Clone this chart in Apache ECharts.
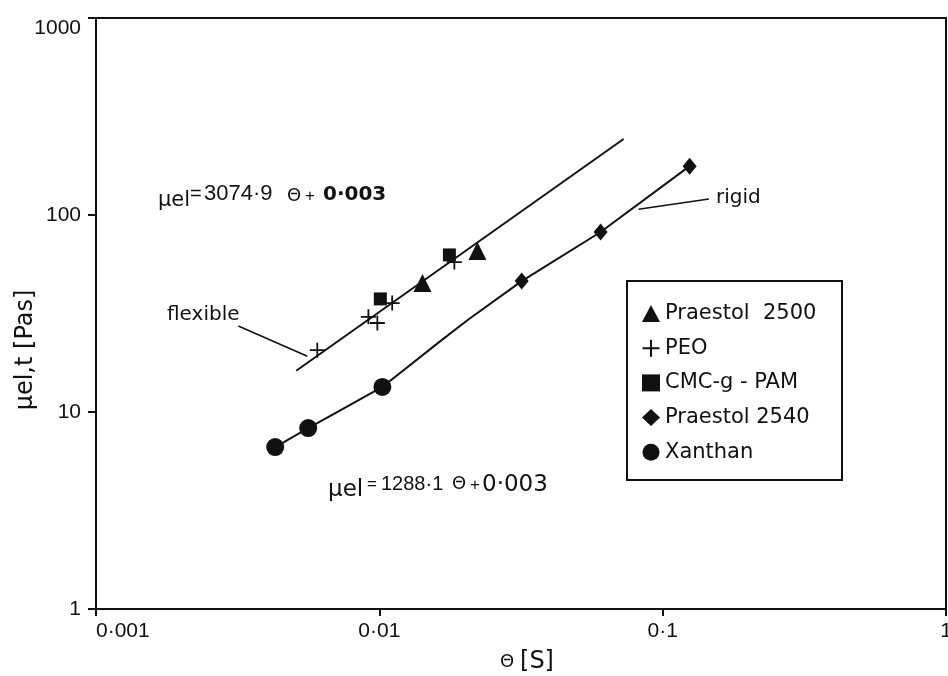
<!DOCTYPE html>
<html>
<head>
<meta charset="utf-8">
<title>Elongational viscosity vs relaxation time</title>
<script src="https://cdn.jsdelivr.net/npm/echarts@6/dist/echarts.min.js"></script>
<style>
  html, body { margin: 0; padding: 0; background: #ffffff; }
  #chart { width: 948px; height: 676px; }
</style>
</head>
<body>
<div id="chart"></div>
<script>
// Measured points: [theta (s), mu_el,t (Pa s)]
const praestol2500 = [[0.0142, 45.2], [0.0222, 65.7]];
const peo = [[0.00604, 20.6], [0.00915, 30.4], [0.00984, 28.3], [0.0111, 35.7], [0.0184, 57.7]];
const cmcGPam = [[0.01008, 37.5], [0.01767, 62.7]];
const praestol2540 = [[0.0318, 46.2], [0.0604, 82], [0.1245, 177]];
const xanthan = [[0.00429, 6.64], [0.00561, 8.29], [0.01025, 13.4]];

// Fitted curves
const flexibleFit = [[0.00509, 16.2], [0.0728, 243]];
const rigidFit = [[0.00429, 6.64], [0.00561, 8.29], [0.00728, 10.2], [0.01025, 13.4],
                  [0.01642, 22.9], [0.0205, 29.3], [0.0318, 46.2], [0.0604, 82], [0.1245, 177]];

// Leader lines for the curve labels
const flexibleLeader = [[0.00318, 27.3], [0.00557, 19.2]];
const rigidLeader = [[0.0822, 107], [0.1456, 120.5]];

// Axis ticks and their printed labels
const xTicks = [0.001, 0.01, 0.1, 1];
const xTickLabels = ['0·001', '0·01', '0·1', '1'];
const yTicks = [1, 10, 100, 1000];
const yTickLabels = ['1', '10', '100', '1000'];

const INK = '#111111';
const WORD_FONT = '"DejaVu Sans", sans-serif';
const NUM_FONT = '"Liberation Sans", Arial, sans-serif';
const plusPath = 'path://M-1.2,-10H1.2V-1.2H10V1.2H1.2V10H-1.2V1.2H-10V-1.2H-1.2Z';

function tickLabel(ticks, labels) {
  return function (v) {
    let best = 0, bestD = Infinity;
    ticks.forEach(function (t, i) {
      const d = Math.abs(Math.log10(v) - Math.log10(t));
      if (d < bestD) { bestD = d; best = i; }
    });
    return labels[best];
  };
}

const chart = echarts.init(document.getElementById('chart'), null, { renderer: 'canvas' });

function scatter(name, data, symbol, size) {
  return {
    name: name, type: 'scatter', data: data, symbol: symbol, symbolSize: size,
    itemStyle: { color: INK, opacity: 1 }, z: 5, silent: true
  };
}
function curve(data, width) {
  return {
    type: 'line', data: data, showSymbol: false, symbol: 'none',
    lineStyle: { color: INK, width: width }, z: 3, silent: true
  };
}
function label(x, y, text, font, extra) {
  const style = Object.assign({ text: text, fill: INK, font: font, textVerticalAlign: 'middle' }, extra || {});
  return { type: 'text', x: x, y: y, style: style };
}

chart.setOption({
  backgroundColor: '#ffffff',
  animation: false,
  grid: {
    left: 96, right: 2, top: 18, bottom: 67,
    outerBoundsMode: 'none', containLabel: false,
    show: true, borderColor: INK, borderWidth: 2
  },
  xAxis: {
    type: 'log', logBase: 10, min: 0.001, max: 1,
    axisLine: { show: true, lineStyle: { color: INK, width: 2 } },
    axisTick: { show: true, length: 7, lineStyle: { color: INK, width: 2 } },
    minorTick: { show: false },
    splitLine: { show: false },
    axisLabel: {
      color: INK, fontFamily: NUM_FONT, fontSize: 21, margin: 12,
      alignMinLabel: 'left', formatter: tickLabel(xTicks, xTickLabels)
    }
  },
  yAxis: {
    type: 'log', logBase: 10, min: 1, max: 1000,
    axisLine: { show: true, lineStyle: { color: INK, width: 2 } },
    axisTick: { show: true, length: 8, lineStyle: { color: INK, width: 2 } },
    minorTick: { show: false },
    splitLine: { show: false },
    axisLabel: {
      color: INK, fontFamily: NUM_FONT, fontSize: 21, margin: 15,
      verticalAlignMaxLabel: 'top', formatter: tickLabel(yTicks, yTickLabels)
    }
  },
  legend: {
    orient: 'vertical', left: 637, top: 298,
    itemWidth: 18, itemHeight: 17, itemGap: 13.7,
    selectedMode: false,
    data: ['Praestol 2500', 'PEO', 'CMC-g - PAM', 'Praestol 2540', 'Xanthan'],
    formatter: function (n) { return n === 'Praestol 2500' ? 'Praestol  2500' : n; },
    textStyle: { color: INK, fontFamily: WORD_FONT, fontSize: 21, lineHeight: 17 }
  },
  graphic: [
    { type: 'rect', shape: { x: 627, y: 281, width: 215, height: 199 },
      style: { fill: 'none', stroke: INK, lineWidth: 2 }, z: 10 },
    // curve labels
    label(167, 315, 'flexible', '20px ' + WORD_FONT),
    label(716, 198, 'rigid', '20px ' + WORD_FONT),
    // fitted equation, flexible chains
    label(158, 201, 'μel', '21px ' + WORD_FONT),
    label(190, 194, '=', '20px ' + NUM_FONT),
    label(204, 194, '3074·9', '22px ' + NUM_FONT),
    label(287, 196, 'Θ', '18px ' + WORD_FONT),
    label(305, 196, '+', '17px ' + NUM_FONT),
    label(323, 195, '0·003', 'bold 20px ' + WORD_FONT),
    // fitted equation, rigid chains
    label(328, 490, 'μel', '23px ' + WORD_FONT),
    label(367, 484, '=', '17px ' + NUM_FONT),
    label(381, 484, '1288·1', '20px ' + NUM_FONT),
    label(452, 484, 'Θ', '18px ' + WORD_FONT),
    label(470, 485, '+', '17px ' + NUM_FONT),
    label(482, 485, '0·003', '23px ' + WORD_FONT),
    // axis titles
    { type: 'text', x: 26, y: 350, rotation: Math.PI / 2,
      style: { text: 'μel,t [Pas]', fill: INK, font: '24px ' + WORD_FONT, textAlign: 'center', textVerticalAlign: 'middle' } },
    label(507, 662, 'Θ', '18px ' + WORD_FONT, { textAlign: 'center' }),
    label(537, 662, '[S]', '24px ' + WORD_FONT, { textAlign: 'center' })
  ],
  series: [
    curve(flexibleFit, 2),
    curve(rigidFit, 2),
    curve(flexibleLeader, 1.6),
    curve(rigidLeader, 1.6),
    scatter('Praestol 2500', praestol2500, 'triangle', 18),
    scatter('PEO', peo, plusPath, 15),
    scatter('CMC-g - PAM', cmcGPam, 'rect', 13),
    scatter('Praestol 2540', praestol2540, 'diamond', [14, 17]),
    scatter('Xanthan', xanthan, 'circle', 18)
  ]
});
</script>
</body>
</html>
